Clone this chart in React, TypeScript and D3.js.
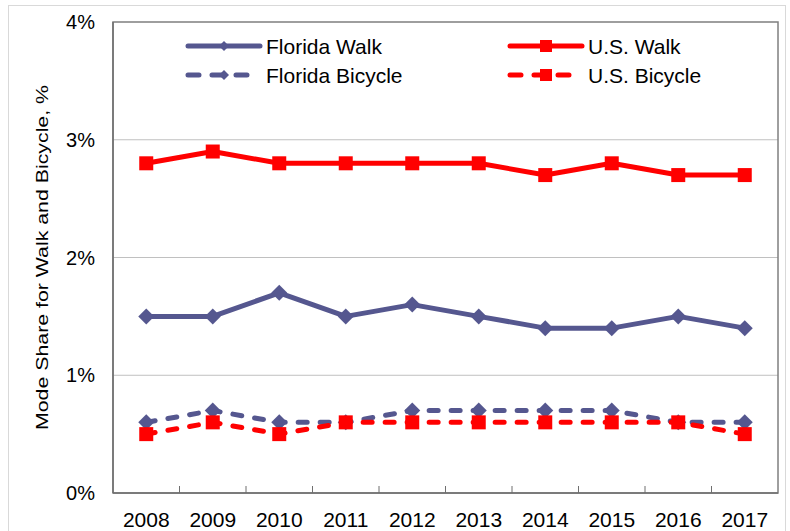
import * as d3 from 'd3';
import React from 'react';

const years = ['2008', '2009', '2010', '2011', '2012', '2013', '2014', '2015', '2016', '2017'];
const floridaWalk = [1.5, 1.5, 1.7, 1.5, 1.6, 1.5, 1.4, 1.4, 1.5, 1.4];
const usWalk = [2.8, 2.9, 2.8, 2.8, 2.8, 2.8, 2.7, 2.8, 2.7, 2.7];
const floridaBicycle = [0.6, 0.7, 0.6, 0.6, 0.7, 0.7, 0.7, 0.7, 0.6, 0.6];
const usBicycle = [0.5, 0.6, 0.5, 0.6, 0.6, 0.6, 0.6, 0.6, 0.6, 0.5];
const yTicks = [0, 1, 2, 3, 4];

const NAVY = '#55578f';
const RED = '#ff0000';
const FONT = '"Liberation Sans", Arial, sans-serif';

type Series = {
  name: string;
  values: number[];
  color: string;
  dashed: boolean;
  marker: 'diamond' | 'square';
};

const series: Series[] = [
  { name: 'Florida Walk', values: floridaWalk, color: NAVY, dashed: false, marker: 'diamond' },
  { name: 'U.S. Walk', values: usWalk, color: RED, dashed: false, marker: 'square' },
  { name: 'Florida Bicycle', values: floridaBicycle, color: NAVY, dashed: true, marker: 'diamond' },
  { name: 'U.S. Bicycle', values: usBicycle, color: RED, dashed: true, marker: 'square' },
];

const Marker: React.FC<{ x: number; y: number; kind: 'diamond' | 'square'; color: string; size?: number }> = ({
  x,
  y,
  kind,
  color,
  size = 14,
}) => {
  const h = size / 2;
  if (kind === 'square') {
    return <rect x={x - h} y={y - h} width={size} height={size} fill={color} />;
  }
  const d = h + 1;
  return <path d={`M${x},${y - d}L${x + d},${y}L${x},${y + d}L${x - d},${y}Z`} fill={color} />;
};

export default function App() {
  const width = 790;
  const height = 531;
  const left = 113;
  const right = 778;
  const top = 22;
  const bottom = 493;

  const x = d3.scaleBand<string>().domain(years).range([left, right]);
  const y = d3.scaleLinear().domain([0, 4]).range([bottom, top]);
  const cx = (yr: string) => (x(yr) ?? 0) + x.bandwidth() / 2;

  const line = d3
    .line<number>()
    .x((_, i) => cx(years[i]))
    .y((v) => y(v));

  const legendItems = [
    { s: series[0], lx: 188, ly: 46 },
    { s: series[1], lx: 510, ly: 46 },
    { s: series[2], lx: 188, ly: 75 },
    { s: series[3], lx: 510, ly: 75 },
  ];

  return (
    <svg
      width={width}
      height={height}
      style={{ position: 'absolute', left: 0, top: 0, background: '#fff' }}
      fontFamily={FONT}
    >
      <rect x={8.5} y={5.5} width={777} height={530} fill="#fff" stroke="#d9d9d9" strokeWidth={1} />

      {/* grid */}
      {yTicks.slice(1, -1).map((t) => (
        <line key={t} x1={left} x2={right} y1={y(t)} y2={y(t)} stroke="#c0c0c0" strokeWidth={1} />
      ))}

      {/* plot frame */}
      <rect x={left} y={top} width={right - left} height={bottom - top} fill="none" stroke="#7f7f7f" strokeWidth={1.5} />
      <line x1={left} x2={left} y1={top} y2={bottom} stroke="#6f6f6f" strokeWidth={1.5} />
      <line x1={left} x2={right} y1={bottom} y2={bottom} stroke="#6f6f6f" strokeWidth={1.5} />

      {/* x ticks between categories */}
      {years.slice(1).map((yr) => (
        <line key={yr} x1={x(yr)} x2={x(yr)} y1={bottom} y2={bottom - 7} stroke="#6f6f6f" strokeWidth={1} />
      ))}

      {/* y tick labels */}
      {yTicks.map((t) => (
        <text key={t} x={95} y={y(t)} dy="0.36em" textAnchor="end" fontSize={20} fill="#000">
          {`${t}%`}
        </text>
      ))}

      {/* x labels */}
      {years.map((yr) => (
        <text key={yr} x={cx(yr)} y={527} textAnchor="middle" fontSize={21} fill="#000">
          {yr}
        </text>
      ))}

      {/* y axis title */}
      <text
        transform={`translate(48,${(top + bottom) / 2}) rotate(-90)`}
        textAnchor="middle"
        fontSize={17}
        textLength={345}
        lengthAdjust="spacingAndGlyphs"
        fill="#000"
      >
        Mode Share for Walk and Bicycle, %
      </text>

      {/* series */}
      {series.map((s) => (
        <g key={s.name}>
          <path
            d={line(s.values) ?? ''}
            fill="none"
            stroke={s.color}
            strokeWidth={5}
            strokeLinecap={s.dashed ? 'round' : 'butt'}
            strokeLinejoin="round"
            strokeDasharray={s.dashed ? '9 13' : undefined}
          />
          {s.values.map((v, i) => (
            <Marker key={i} x={cx(years[i])} y={y(v)} kind={s.marker} color={s.color} />
          ))}
        </g>
      ))}

      {/* legend */}
      {legendItems.map(({ s, lx, ly }) => (
        <g key={s.name}>
          <line
            x1={lx}
            x2={lx + (s.dashed ? 66 : 72)}
            y1={ly}
            y2={ly}
            stroke={s.color}
            strokeWidth={5}
            strokeLinecap="round"
            strokeDasharray={s.dashed ? '11 13' : undefined}
          />
          <Marker x={lx + 36} y={ly} kind={s.marker} color={s.color} size={s.marker === 'square' ? 12 : 8} />
          <text x={lx + 78} y={ly} dy="0.36em" fontSize={21} fill="#000">
            {s.name}
          </text>
        </g>
      ))}
    </svg>
  );
}
